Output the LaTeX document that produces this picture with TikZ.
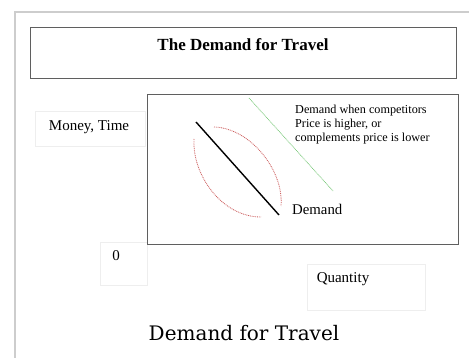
\documentclass[tikz,border=0pt]{standalone}
\usepackage{fontspec}
\setmainfont{Liberation Serif}
\newfontfamily\captionserif{DejaVu Serif}
\usetikzlibrary{positioning}
\definecolor{frameGrey}{RGB}{205,205,205}
\definecolor{boxGrey}{RGB}{95,95,95}
\definecolor{faintGrey}{RGB}{238,238,238}
\definecolor{shiftGreen}{RGB}{120,200,120}
\definecolor{rangeRed}{RGB}{205,95,95}
\tikzset{
  plotbox/.style={
    rectangle, draw=boxGrey, line width=1pt, anchor=north west, inner sep=0pt},
  labelbox/.style={
    rectangle, draw=faintGrey, line width=0.8pt, anchor=north west, inner sep=0pt},
  axislabel/.style={font=\fontsize{15}{17}\selectfont, inner sep=0pt},
  curveline/.style={line width=1.4pt, draw=black},
  shiftline/.style={line width=0.7pt, draw=shiftGreen, dash pattern=on 0.9pt off 0.7pt},
  rangeline/.style={line width=0.8pt, draw=rangeRed, dash pattern=on 0.9pt off 0.9pt}
}

\begin{document}
\begin{tikzpicture}[x=1pt, y=-1pt]
    \useasboundingbox (0,0) rectangle (469,358);
    \fill[white] (0,0) rectangle (469,358);
    % page frame
    \draw[frameGrey, line width=1.6pt] (15,358) -- (15,12) -- (469,12);

    % heading
    \node[plotbox, minimum width=426pt, minimum height=51pt] (titlebox) at (30,27) {};
    \node[font=\fontsize{17}{20}\selectfont\bfseries, inner sep=0pt] (title) at (243,45)
        {The Demand for Travel};

    % axis labels
    \node[labelbox, minimum width=110pt, minimum height=35pt] (ybox) at (35,111) {};
    \node[axislabel] (ylab) at (89,127) {Money, Time};
    \node[labelbox, minimum width=47pt, minimum height=43pt] (obox) at (100,242) {};
    \node[axislabel] (origin) at (116,256) {0};
    \node[labelbox, minimum width=118pt, minimum height=46pt] (xbox) at (307,264) {};
    \node[axislabel] (xlab) at (343,279) {Quantity};

    % plot area
    \node[plotbox, minimum width=311pt, minimum height=150pt] (plot) at (147,94) {};

    \coordinate (dtop) at (196,122);
    \coordinate (dbot) at (279,215);
    \coordinate (stop) at (249,98);
    \coordinate (sbot) at (333,191);

    \draw[curveline] (dtop) -- (dbot);
    \draw[shiftline] (stop) -- (sbot);
    \draw[rangeline] (214,127) .. controls (250,128) and (284,170) .. (281,206);
    \draw[rangeline] (194,139) .. controls (192,175) and (222,217) .. (261,217);

    \node[font=\fontsize{14.8}{17}\selectfont, inner sep=0pt, anchor=west] (dlab) at (292,209) {Demand};
    \node[font=\fontsize{12.2}{14}\selectfont, inner sep=0pt, anchor=north west, align=left] (shiftlab)
        at (295,105) {Demand when competitors\\Price is higher, or\\complements price is lower};

    % caption
    \node[font=\captionserif\fontsize{20}{24}\selectfont, inner sep=0pt] (caption) at (244,333)
        {Demand for Travel};
\end{tikzpicture}
\end{document}
